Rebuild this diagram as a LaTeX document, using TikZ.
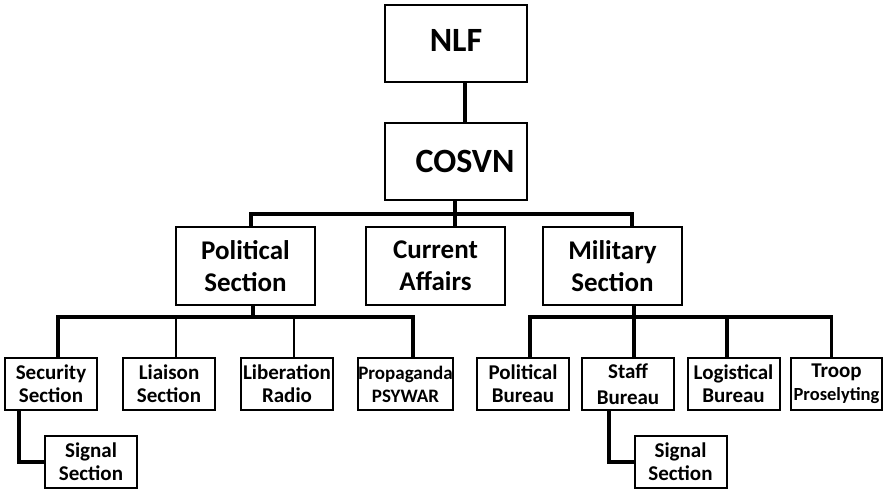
\documentclass[tikz,border=0pt]{standalone}
\usepackage{fontspec}
\setmainfont{Carlito}
\begin{document}
\begin{tikzpicture}[x=1pt,y=-1pt,
 box/.style={draw, line width=2pt, inner sep=0pt, align=center},
 big/.style={box, minimum width=142pt, minimum height=77pt, font=\fontsize{34}{40}\selectfont\bfseries},
 mid/.style={box, minimum width=139pt, minimum height=78pt, font=\fontsize{27}{32}\selectfont\bfseries},
 small/.style={box, minimum width=92pt, minimum height=52pt, font=\fontsize{21}{23}\selectfont\bfseries},
 conn/.style={line width=3.2pt},
 thinconn/.style={line width=2.2pt}]
\useasboundingbox (0,0) rectangle (884,489);
% top
\node[big] (nlf) at (456,43.5) {\raisebox{7pt}{NLF}};
\node[big] (cosvn) at (456,161.5) {\hspace*{18pt}COSVN};
% second row
\node[mid] (pol) at (245.5,266) {Political\\Section};
\node[mid] (cur) at (435.5,266) {Current\\Affairs};
\node[mid] (mil) at (612.5,266) {Military\\Section};
% third row
\node[small] (sec) at (51,384) {Security\\Section};
\node[small] (lia) at (169,384) {Liaison\\Section};
\node[small] (lib) at (287,384) {Liberation\\Radio};
\node[small, font=\fontsize{19}{23}\selectfont\bfseries] (pro) at (405.5,384) {Propaganda\\PSYWAR};
\node[small] (pbu) at (523,384) {Political\\Bureau};
\node[small] (sbu) at (628,384) {\raisebox{3pt}{Staff}\\Bureau};
\node[small] (lbu) at (733.5,384) {Logistical\\Bureau};
\node[small, minimum width=91pt] (tro) at (836.5,384) {Troop\\{\fontsize{18.5}{20}\selectfont Proselyting}};
% fourth row
\node[small] (sig1) at (91,462) {Signal\\Section};
\node[small] (sig2) at (680.5,462) {Signal\\Section};
% connectors
\draw[conn] ([xshift=9pt]nlf.south) -- ([xshift=9pt]cosvn.north);
\coordinate (b1) at (455,214);
\draw[conn] (cosvn.south -| b1) -- (b1 |- cur.north);
\draw[conn] ([xshift=5.5pt]pol.north) |- (b1) -| ([xshift=19.5pt]mil.north);
\coordinate (b2) at (253,317);
\draw[conn] (pol.south -| b2) -- (b2);
\draw[conn] ([xshift=7pt]sec.north) |- (b2) -| ([xshift=7.5pt]pro.north);
\draw[thinconn] ([xshift=7pt]lia.north) -- ([xshift=7pt]lia.north |- b2);
\draw[thinconn] ([xshift=7pt]lib.north) -- ([xshift=7pt]lib.north |- b2);
\coordinate (b3) at (634,317);
\draw[conn] (mil.south -| b3) -- (b3);
\draw[conn] ([xshift=7pt]pbu.north) |- (b3) -| ([xshift=-5pt]tro.north);
\draw[conn] (sbu.north -| b3) -- (b3);
\draw[conn] ([xshift=-6.5pt]lbu.north) -- ([xshift=-6.5pt]lbu.north |- b3);
\draw[conn] ([xshift=-32pt]sec.south) |- (sig1.west);
\draw[conn] ([xshift=-19pt]sbu.south) |- (sig2.west);
\end{tikzpicture}
\end{document}
